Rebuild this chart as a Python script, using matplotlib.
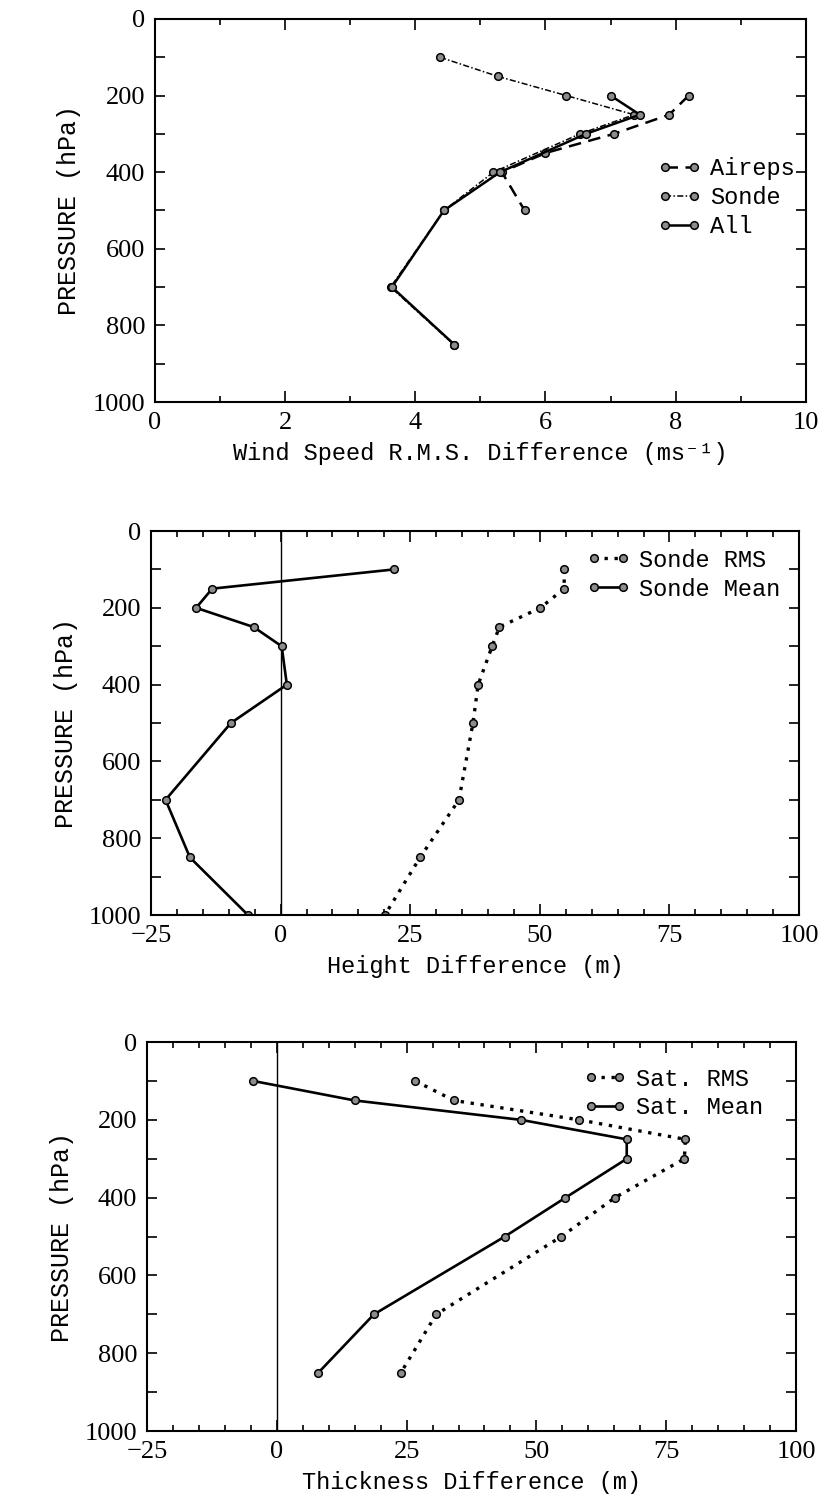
import matplotlib
matplotlib.use("Agg")
import matplotlib.pyplot as plt
from matplotlib.ticker import MultipleLocator

plt.rcParams['font.family'] = ['Liberation Mono', 'DejaVu Sans Mono']

# wind speed rms difference (m/s) vs pressure (hPa)
aireps_p = [200, 250, 300, 350, 400, 500]
aireps_v = [8.2, 7.9, 7.05, 6.0, 5.33, 5.68]
sonde_p = [100, 150, 200, 250, 300, 400, 500, 700, 850]
sonde_v = [4.38, 5.27, 6.32, 7.36, 6.53, 5.2, 4.44, 3.62, 4.59]
all_p = [200, 250, 300, 400, 500, 700, 850]
all_v = [7.0, 7.45, 6.62, 5.3, 4.44, 3.64, 4.6]

# height difference (m)
height_p = [100, 150, 200, 250, 300, 400, 500, 700, 850, 1000]
sonde_rms = [54.7, 54.7, 50.1, 42.2, 40.8, 38.1, 37.1, 34.4, 26.9, 20.1]
sonde_mean = [21.8, -13.2, -16.3, -5.2, 0.2, 1.2, -9.6, -22.2, -17.5, -6.3]

# thickness difference (m)
thick_p = [100, 150, 200, 250, 300, 400, 500, 700, 850]
sat_rms = [26.7, 34.1, 58.3, 78.7, 78.5, 65.1, 54.8, 30.7, 23.9]
sat_mean = [-4.5, 15.0, 47.1, 67.4, 67.4, 55.6, 43.9, 18.7, 8.0]

mk = dict(marker='o', ms=5.5, mfc='#8c8c8c', mec='black', mew=1.1, color='black')
TICKFONT = 19
LABFONT = 17
SERIF = ['Liberation Serif', 'DejaVu Serif']


def style_axes(ax, xmin, xmax, xmajor, xminor):
    ax.set_ylim(1000, 0)
    ax.set_xlim(xmin, xmax)
    ax.xaxis.set_major_locator(MultipleLocator(xmajor))
    ax.xaxis.set_minor_locator(MultipleLocator(xminor))
    ax.yaxis.set_major_locator(MultipleLocator(200))
    ax.yaxis.set_minor_locator(MultipleLocator(100))
    ax.tick_params(which='both', direction='in', top=True, right=True,
                   labelsize=TICKFONT, width=1.2, pad=7)
    ax.tick_params(axis='x', which='major', length=8)
    ax.tick_params(axis='x', which='minor', length=4)
    ax.tick_params(axis='y', which='both', length=7)
    for lab in ax.get_xticklabels() + ax.get_yticklabels():
        lab.set_family(SERIF)
    for s in ax.spines.values():
        s.set_linewidth(1.5)
    ax.set_ylabel('PRESSURE (hPa)', fontsize=LABFONT + 1, labelpad=8)


fig = plt.figure(figsize=(8.24, 15.04), dpi=100)

# top panel: wind speed
ax = fig.add_axes([0.188, 0.7327, 0.790, 0.2547])
ax.plot(aireps_v, aireps_p, ls=(0, (5, 3)), lw=1.8, label='Aireps', **mk)
ax.plot(sonde_v, sonde_p, ls=(0, (4, 1.5, 1, 1.5)), lw=1.1, label='Sonde', **mk)
ax.plot(all_v, all_p, ls='-', lw=1.8, label='All', **mk)
style_axes(ax, 0, 10, 2, 1)
ax.set_xlabel('Wind Speed R.M.S. Difference (ms\u207b\u00b9)', fontsize=LABFONT, labelpad=6)
ax.legend(loc='upper left', bbox_to_anchor=(0.755, 0.67), frameon=False,
          fontsize=LABFONT, handlelength=1.8, handletextpad=0.4,
          labelspacing=0.25, numpoints=2, borderpad=0)

# middle panel: height
ax = fig.add_axes([0.1833, 0.3916, 0.7864, 0.2553])
ax.axvline(0, color='black', lw=1.0)
ax.plot(sonde_rms, height_p, ls=(0, (1, 2)), lw=2.4, label='Sonde RMS', **mk)
ax.plot(sonde_mean, height_p, ls='-', lw=1.9, label='Sonde Mean', **mk)
style_axes(ax, -25, 100, 25, 5)
ax.set_xlabel('Height Difference (m)', fontsize=LABFONT, labelpad=6)
ax.legend(loc='upper left', bbox_to_anchor=(0.655, 0.985), frameon=False,
          fontsize=LABFONT, handlelength=1.8, handletextpad=0.4,
          labelspacing=0.25, numpoints=2, borderpad=0)

# bottom panel: thickness
ax = fig.add_axes([0.1784, 0.0485, 0.7876, 0.2586])
ax.axvline(0, color='black', lw=1.0)
ax.plot(sat_rms, thick_p, ls=(0, (1, 2)), lw=2.4, label='Sat. RMS', **mk)
ax.plot(sat_mean, thick_p, ls='-', lw=1.9, label='Sat. Mean', **mk)
style_axes(ax, -25, 100, 25, 5)
ax.set_xlabel('Thickness Difference (m)', fontsize=LABFONT, labelpad=6)
ax.legend(loc='upper left', bbox_to_anchor=(0.655, 0.965), frameon=False,
          fontsize=LABFONT, handlelength=1.8, handletextpad=0.4,
          labelspacing=0.25, numpoints=2, borderpad=0)

fig.savefig('out.png', dpi=100)
